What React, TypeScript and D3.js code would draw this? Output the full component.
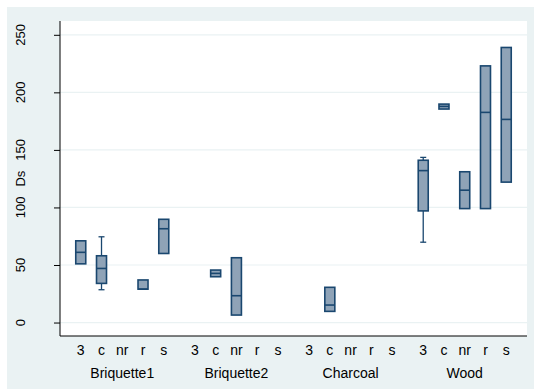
import { useEffect, useRef } from 'react'
import * as d3 from 'd3'

const groups = ['Briquette1', 'Briquette2', 'Charcoal', 'Wood']
const categories = ['3', 'c', 'nr', 'r', 's']
const yTicks = [0, 50, 100, 150, 200, 250]

// [lower whisker, q1, median, q3, upper whisker], null = no data
const briquette1 = [
    [51, 51, 61, 71, 71],
    [28.5, 34, 47, 58, 74.5],
    null,
    [29, 29, 29, 37, 37],
    [60, 60, 81.5, 89.7, 89.7]
]
const briquette2 = [
    null,
    [39.8, 39.8, 42.7, 45.6, 45.6],
    [6.5, 6.5, 23.3, 56.3, 56.3],
    null,
    null
]
const charcoal = [
    null,
    [9.7, 9.7, 15.2, 30.6, 30.6],
    null,
    null,
    null
]
const wood = [
    [69.8, 97, 132, 141, 143.5],
    [185.5, 185.5, 187.8, 189.8, 189.8],
    [99, 99, 115, 131, 131],
    [99, 99, 182.6, 223, 223],
    [122, 122, 176.5, 239, 239]
]
const seriesByGroup = [briquette1, briquette2, charcoal, wood]

function App() {
    const ref = useRef<SVGSVGElement>(null)

    useEffect(() => {
        const width = 534
        const height = 389
        const plot = { left: 60, right: 527, top: 21, bottom: 336 }
        const groupGap = 0.5
        const navy = '#1a476f'
        const fill = '#8fa3b7'
        const grid = '#eaf2f3'
        const font = 'Liberation Sans, Arial, sans-serif'

        const svg = d3.select(ref.current)
        svg.selectAll('*').remove()

        svg.append('rect')
            .attr('x', 7).attr('y', 7)
            .attr('width', width - 7).attr('height', height - 7)
            .attr('fill', '#eaf2f3')

        svg.append('rect')
            .attr('x', plot.left).attr('y', plot.top)
            .attr('width', plot.right - plot.left)
            .attr('height', plot.bottom - plot.top)
            .attr('fill', 'white')

        const slot = (gi: number, ci: number) => gi * (categories.length + groupGap) + ci
        const lastSlot = slot(groups.length - 1, categories.length - 1)

        const xScale = d3.scaleLinear()
            .domain([-1, lastSlot + 1])
            .range([plot.left, plot.right])

        const yScale = d3.scaleLinear()
            .domain([-11.7, 262])
            .range([plot.bottom, plot.top])

        // grid lines
        svg.append('g')
            .selectAll('line')
            .data(yTicks)
            .join('line')
            .attr('x1', plot.left).attr('x2', plot.right)
            .attr('y1', d => yScale(d)).attr('y2', d => yScale(d))
            .attr('stroke', grid)
            .attr('stroke-width', 1.2)

        // y axis
        const yAxis = svg.append('g')
            .attr('transform', `translate(${plot.left},0)`)
            .call(d3.axisLeft(yScale).tickValues(yTicks).tickSize(6).tickPadding(0).tickSizeOuter(0))
        yAxis.select('.domain').remove()
        yAxis.selectAll('.tick line').attr('stroke', '#000')
        yAxis.selectAll('.tick text').remove()

        svg.append('g')
            .selectAll('text')
            .data(yTicks)
            .join('text')
            .attr('transform', d => `translate(20,${yScale(d)}) rotate(-90)`)
            .attr('text-anchor', 'middle')
            .attr('dy', '0.35em')
            .attr('font-family', font)
            .attr('font-size', 13)
            .text(d => d)

        svg.append('text')
            .attr('transform', `translate(20,${(yScale(100) + yScale(150)) / 2}) rotate(-90)`)
            .attr('text-anchor', 'middle')
            .attr('dy', '0.35em')
            .attr('font-family', font)
            .attr('font-size', 13)
            .text('Ds')

        svg.append('line')
            .attr('x1', plot.left).attr('x2', plot.left)
            .attr('y1', plot.top).attr('y2', plot.bottom)
            .attr('stroke', '#000')
        svg.append('line')
            .attr('x1', plot.left).attr('x2', plot.right)
            .attr('y1', plot.bottom).attr('y2', plot.bottom)
            .attr('stroke', '#000')

        // boxes
        const boxes = seriesByGroup.flatMap((series, gi) =>
            series.map((stats, ci) => ({ gi, ci, stats })).filter(b => b.stats !== null)
        ) as { gi: number, ci: number, stats: number[] }[]

        const boxW = 10
        const capW = 6
        const box = svg.append('g')
            .selectAll('g')
            .data(boxes)
            .join('g')
            .attr('transform', d => `translate(${xScale(slot(d.gi, d.ci))},0)`)

        box.filter(d => d.stats[4] > d.stats[3]).each(function (d) {
            const g = d3.select(this)
            g.append('line')
                .attr('y1', yScale(d.stats[3])).attr('y2', yScale(d.stats[4]))
                .attr('stroke', navy).attr('stroke-width', 1.3)
            g.append('line')
                .attr('x1', -capW / 2).attr('x2', capW / 2)
                .attr('y1', yScale(d.stats[4])).attr('y2', yScale(d.stats[4]))
                .attr('stroke', navy).attr('stroke-width', 1.3)
        })
        box.filter(d => d.stats[0] < d.stats[1]).each(function (d) {
            const g = d3.select(this)
            g.append('line')
                .attr('y1', yScale(d.stats[1])).attr('y2', yScale(d.stats[0]))
                .attr('stroke', navy).attr('stroke-width', 1.3)
            g.append('line')
                .attr('x1', -capW / 2).attr('x2', capW / 2)
                .attr('y1', yScale(d.stats[0])).attr('y2', yScale(d.stats[0]))
                .attr('stroke', navy).attr('stroke-width', 1.3)
        })

        box.append('rect')
            .attr('x', -boxW / 2)
            .attr('width', boxW)
            .attr('y', d => yScale(d.stats[3]))
            .attr('height', d => yScale(d.stats[1]) - yScale(d.stats[3]))
            .attr('fill', fill)
            .attr('stroke', navy)
            .attr('stroke-width', 1.6)

        box.append('line')
            .attr('x1', -boxW / 2).attr('x2', boxW / 2)
            .attr('y1', d => yScale(d.stats[2])).attr('y2', d => yScale(d.stats[2]))
            .attr('stroke', navy)
            .attr('stroke-width', 1.6)

        // category labels
        const catLabels = groups.flatMap((g, gi) => categories.map((c, ci) => ({ c, x: xScale(slot(gi, ci)) })))
        svg.append('g')
            .selectAll('text')
            .data(catLabels)
            .join('text')
            .attr('x', d => d.x)
            .attr('y', 355)
            .attr('text-anchor', 'middle')
            .attr('font-family', font)
            .attr('font-size', 14)
            .text(d => d.c)

        svg.append('g')
            .selectAll('text')
            .data(groups)
            .join('text')
            .attr('x', (d, gi) => xScale(slot(gi, (categories.length - 1) / 2)))
            .attr('y', 378)
            .attr('text-anchor', 'middle')
            .attr('font-family', font)
            .attr('font-size', 14)
            .text(d => d)
    }, [])

    return (
        <svg
            ref={ref}
            width={534}
            height={389}
            style={{ position: 'absolute', left: 0, top: 0 }}
        />
    )
}

export default App
